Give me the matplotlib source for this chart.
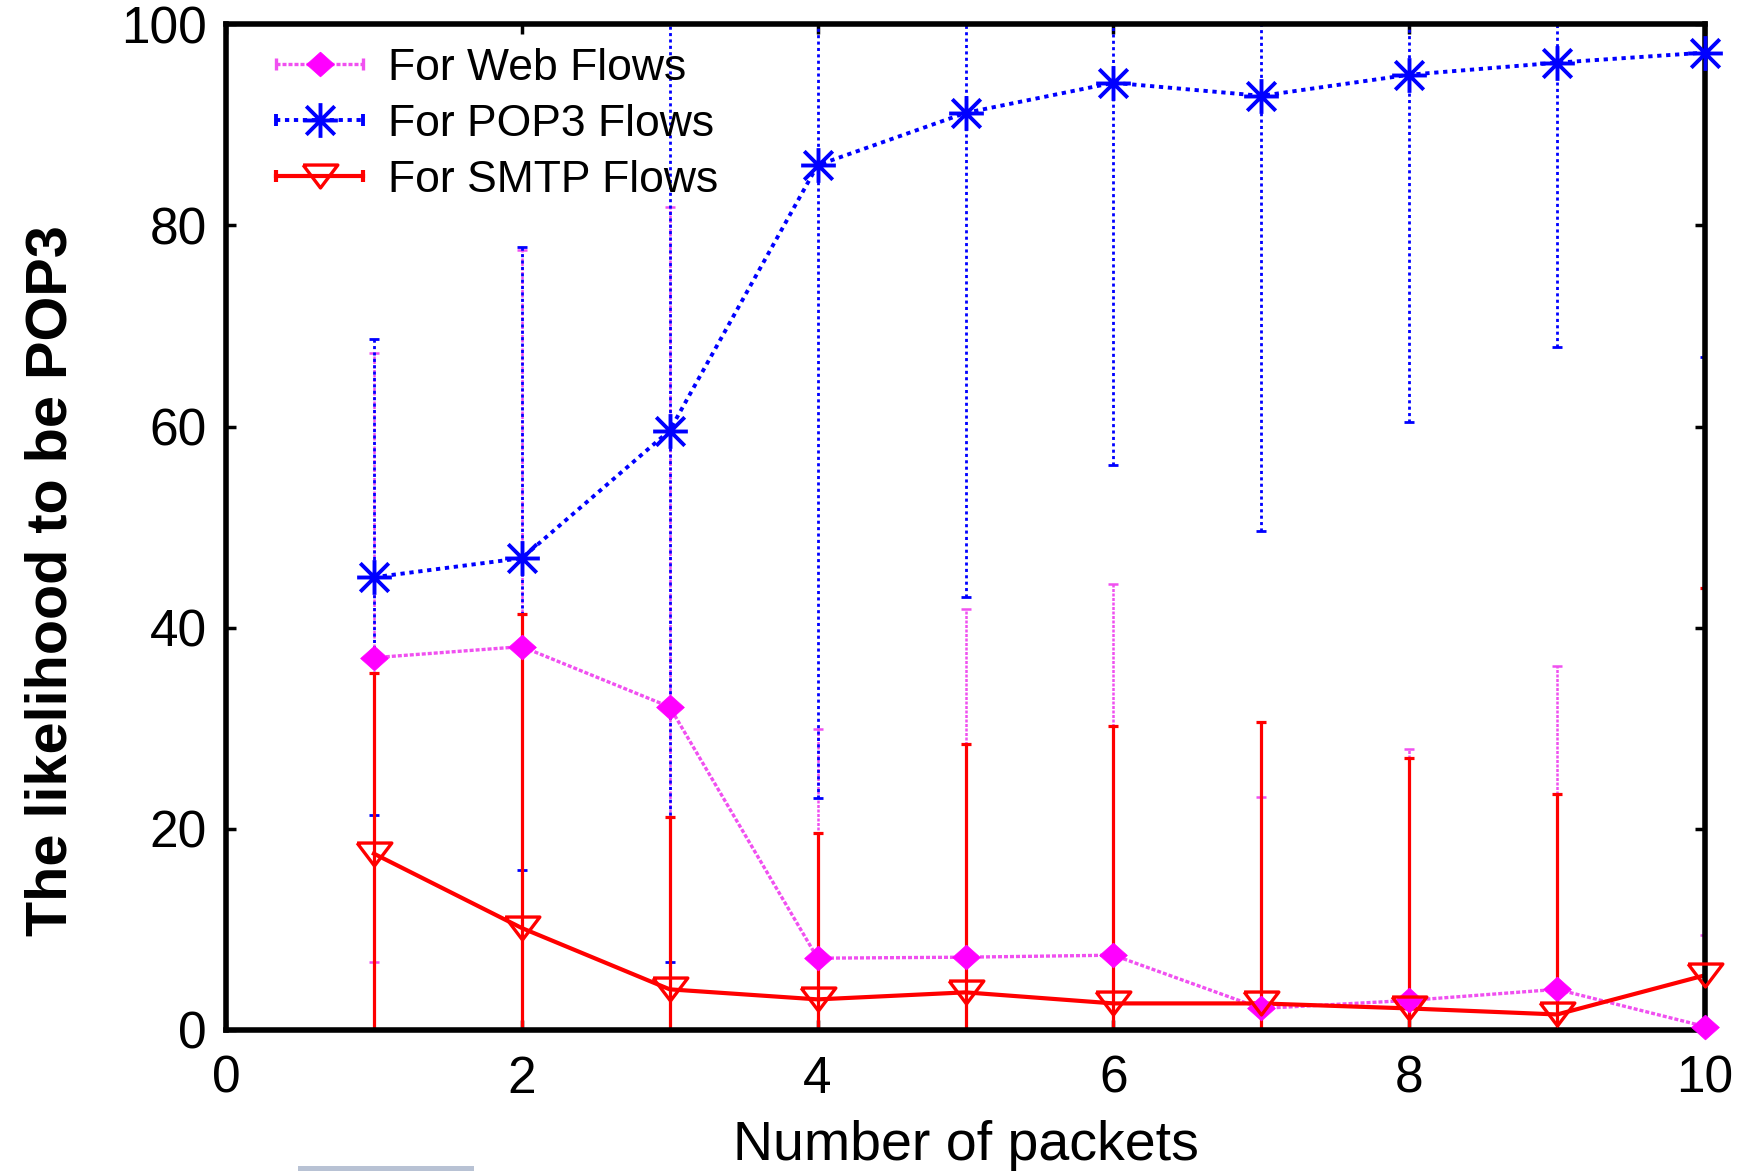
import numpy as np
import matplotlib
matplotlib.use("Agg")
import matplotlib.pyplot as plt
from matplotlib.lines import Line2D
from matplotlib.path import Path
from matplotlib.patches import Rectangle
from matplotlib.legend_handler import HandlerBase

plt.rcParams["font.family"] = ["Liberation Sans", "DejaVu Sans"]

# ---- data -------------------------------------------------------------
packets = [1, 2, 3, 4, 5, 6, 7, 8, 9, 10]

web_mean = [37.0, 38.1, 32.1, 7.1, 7.2, 7.4, 2.1, 2.9, 4.0, 0.3]
web_std = [30.3, 39.5, 49.7, 22.8, 34.6, 36.9, 21.0, 25.0, 32.2, 9.1]

pop3_mean = [45.0, 46.9, 59.6, 86.0, 91.2, 94.2, 92.9, 95.0, 96.2, 97.2]
pop3_std = [23.7, 31.0, 52.9, 63.0, 48.2, 38.0, 43.3, 34.6, 28.3, 30.3]

smtp_mean = [17.5, 10.1, 4.0, 3.0, 3.7, 2.6, 2.6, 2.1, 1.5, 5.4]
smtp_std = [18.0, 31.2, 17.1, 16.6, 24.7, 27.6, 28.0, 24.9, 21.9, 38.5]

labels = ["For Web Flows", "For POP3 Flows", "For SMTP Flows"]
x_ticks = [0, 2, 4, 6, 8, 10]
y_ticks = [0, 20, 40, 60, 80, 100]

# ---- marker shapes ----------------------------------------------------
diamond = [(0, 1), (1.12, 0), (0, -1), (-1.12, 0), (0, 1)]
nabla = [(-1, 0.66), (1, 0.66), (0, -0.66), (-1, 0.66)]
star = Path(
    [(-1, 0), (1, 0), (0, -1), (0, 1),
     (-0.82, -0.82), (0.82, 0.82), (-0.82, 0.82), (0.82, -0.82)],
    [Path.MOVETO, Path.LINETO] * 4,
)

styles = [
    dict(mean=web_mean, std=web_std, color="#f050f0", lw=2.4,
         ls=(0, (1.2, 0.6)), elw=1.8, els=(0, (1.2, 0.6)),
         marker=diamond, ms=20, mfc="#ff00ff", mec="#ff00ff", mew=0.5,
         z=2),
    dict(mean=pop3_mean, std=pop3_std, color="#0000ff", lw=2.8,
         ls=(0, (1.1, 1.2)), elw=2.0, els=(0, (1.1, 1.2)),
         marker=star, ms=25, mfc="none", mec="#0000ff", mew=2.8,
         z=3),
    dict(mean=smtp_mean, std=smtp_std, color="#ff0000", lw=3.0,
         ls="-", elw=2.3, els="-",
         marker=nabla, ms=25, mfc="none", mec="#ff0000", mew=2.4,
         z=4),
]


class CappedLineHandler(HandlerBase):
    """Legend key: a line with end caps and the series marker in the middle."""

    def create_artists(self, legend, orig_handle, xdescent, ydescent,
                       width, height, fontsize, trans):
        line_src, mark_src = orig_handle
        y = (height - ydescent) / 2
        x0, x1 = -xdescent, -xdescent + width
        line = Line2D([x0, x1], [y, y])
        line.update_from(line_src)
        line.set_marker("None")
        caps = Line2D([x0, x1], [y, y], linestyle="none", marker="|",
                      markersize=9, markeredgewidth=line_src.get_linewidth(),
                      color=line_src.get_color())
        mark = Line2D([(x0 + x1) / 2], [y], linestyle="none")
        mark.update_from(mark_src)
        for a in (line, caps, mark):
            a.set_transform(trans)
        return [line, caps, mark]


fig = plt.figure(figsize=(17.45, 11.71), dpi=100)
ax = fig.add_axes([0.1295, 0.1208, 0.8476, 0.8583])

handles = []
for s in styles:
    eb = ax.errorbar(packets, s["mean"], yerr=s["std"], fmt="none",
                     ecolor=s["color"], elinewidth=s["elw"], capsize=3.5,
                     capthick=s["elw"], zorder=s["z"])
    eb.lines[2][0].set_linestyle(s["els"])
    line, = ax.plot(packets, s["mean"], color=s["color"], linestyle=s["ls"],
                    linewidth=s["lw"], zorder=s["z"] + 0.1)
    marks, = ax.plot(packets, s["mean"], linestyle="none", marker=s["marker"],
                     markersize=s["ms"], markerfacecolor=s["mfc"],
                     markeredgecolor=s["mec"], markeredgewidth=s["mew"],
                     zorder=6 + s["z"] * 0.1, clip_on=False)
    handles.append((line, marks))

ax.set_xlim(0, 10)
ax.set_ylim(0, 100)
ax.set_xticks(x_ticks)
ax.set_yticks(y_ticks)

for sp in ax.spines.values():
    sp.set_linewidth(4)
    sp.set_zorder(5)
ax.tick_params(direction="in", top=True, right=True, length=7, width=2.5,
               labelsize=37)
ax.tick_params(axis="x", pad=18)
ax.tick_params(axis="y", pad=14)

ax.set_xlabel("Number of packets", fontsize=40)
ax.xaxis.set_label_coords(0.5, -0.090)
ax.set_ylabel("The likelihood to be POP3", fontsize=41.5, fontweight="bold")
ax.yaxis.set_label_coords(-0.0994, 0.447)

ax.legend(handles, labels, loc="upper left", bbox_to_anchor=(0.034, 0.977),
          frameon=False, fontsize=32, borderpad=0, borderaxespad=0,
          handlelength=1.96, handletextpad=0.56, labelspacing=0.34,
          handler_map={tuple: CappedLineHandler()})

fig.add_artist(Rectangle((0.1708, 0.0), 0.1009, 0.004,
                         transform=fig.transFigure, color="#b8c2d4", lw=0))

fig.savefig("out.png", dpi=100)
